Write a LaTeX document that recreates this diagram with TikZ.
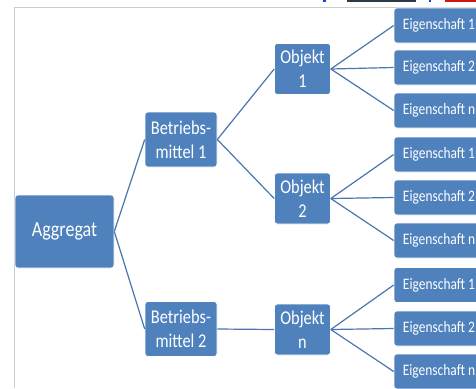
\documentclass[tikz,border=0pt]{standalone}
\usepackage{fontspec}
\setmainfont[FakeStretch=0.84]{Carlito}
\definecolor{boxblue}{HTML}{4F81BD}
\definecolor{linkblue}{HTML}{4A76AE}
\definecolor{framegray}{HTML}{CCCCCC}
\definecolor{markblue}{HTML}{1A3FE0}
\definecolor{markdark}{HTML}{2B3A4A}
\definecolor{markred}{HTML}{D01818}
\begin{document}
\begin{tikzpicture}[x=1pt,y=-1pt,
  blk/.style={draw=white, line width=0.6pt, fill=boxblue, rounded corners=3pt,
    text=white, inner sep=0pt, align=center},
  agg/.style={blk, minimum width=99pt, minimum height=73pt, font=\fontsize{21.5}{24}\selectfont},
  mid/.style={blk, minimum width=72pt, minimum height=55pt, font=\fontsize{19.5}{24}\selectfont},
  obj/.style={blk, minimum width=56pt, minimum height=51pt, font=\fontsize{19.5}{24}\selectfont},
  prop/.style={blk, minimum width=90pt, minimum height=35pt, font=\fontsize{16}{18}\selectfont},
  link/.style={draw=linkblue, line width=1.2pt}]
\useasboundingbox (0,0) rectangle (476,388);
\clip (0,0) rectangle (476,388);
\fill[white] (0,0) rectangle (476,388);

% frame and marks along the top edge
\draw[framegray, line width=1.4pt] (14.5,388) -- (14.5,7.5) -- (476,7.5);
\fill[markblue] (323,0) rectangle (326,2);
\fill[markdark] (347,0) rectangle (416,2);
\fill[markblue] (429,0) rectangle (431,2);
\fill[markred] (445,0) rectangle (476,2);

% tree nodes
\node[agg] (agg) at (64.5,231.5) {Aggregat};
\node[mid] (bm1) at (181,139.5) {Betriebs-\\mittel 1};
\node[mid] (bm2) at (181,329) {Betriebs-\\mittel 2};
\node[obj] (o1) at (302.5,69) {Objekt\\1};
\node[obj] (o2) at (302.5,198.5) {Objekt\\2};
\node[obj] (on) at (302.5,329.5) {Objekt\\n};

\node[prop] (e11) at (439,25.5) {Eigenschaft 1};
\node[prop] (e12) at (439,67.5) {Eigenschaft 2};
\node[prop] (e1n) at (439,110.5) {Eigenschaft n};
\node[prop] (e21) at (439,154.5) {Eigenschaft 1};
\node[prop] (e22) at (439,197.5) {Eigenschaft 2};
\node[prop] (e2n) at (439,240.5) {Eigenschaft n};
\node[prop] (e31) at (439,285) {Eigenschaft 1};
\node[prop] (e32) at (439,328.5) {Eigenschaft 2};
\node[prop] (e3n) at (439,371.5) {Eigenschaft n};

% connectors
\draw[link] (agg.east) -- (bm1.west);
\draw[link] (agg.east) -- (bm2.west);
\draw[link] (bm1.east) -- (o1.west);
\draw[link] (bm1.east) -- (o2.west);
\draw[link] (bm2.east) -- (on.west);
\foreach \o/\a/\b/\c in {o1/e11/e12/e1n, o2/e21/e22/e2n, on/e31/e32/e3n}{
  \draw[link] (\o.east) -- (\a.west);
  \draw[link] (\o.east) -- (\b.west);
  \draw[link] (\o.east) -- (\c.west);
}
\end{tikzpicture}
\end{document}
